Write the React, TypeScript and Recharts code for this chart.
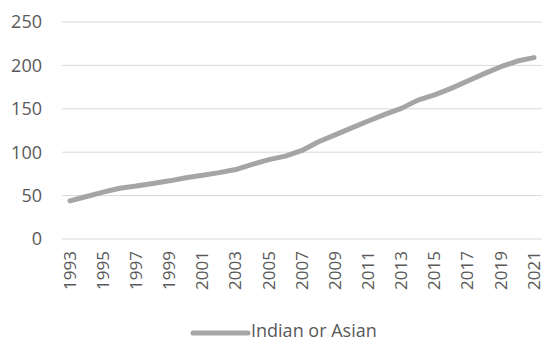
import { LineChart, Line, XAxis, YAxis, CartesianGrid, Legend } from 'recharts'

const years = [
  '1993', '1994', '1995', '1996', '1997', '1998', '1999', '2000', '2001', '2002',
  '2003', '2004', '2005', '2006', '2007', '2008', '2009', '2010', '2011', '2012',
  '2013', '2014', '2015', '2016', '2017', '2018', '2019', '2020', '2021',
]

const indianOrAsian = [
  44, 49, 54, 58.5, 61, 64, 67, 70.5, 73.5, 76.5,
  80, 86, 91.5, 95.5, 102, 112, 120, 128, 136, 143.5,
  150.5, 160, 166, 173.5, 182, 190.5, 198.5, 205, 209,
]

const yTicks = [0, 50, 100, 150, 200, 250]

const seriesName = 'Indian or Asian'

const data = years.map((year, i) => ({ year, value: indianOrAsian[i] }))

const FONT = '"Open Sans", "Noto Sans", sans-serif'
const TEXT = '#595959'
const LINE = '#a5a5a5'

// year labels turned on their side, reading bottom-to-top
function YearTick({ x, y, payload }: any) {
  return (
    <text
      x={x}
      y={y}
      transform={`rotate(-90, ${x}, ${y})`}
      textAnchor="end"
      dy="0.34em"
      fill={TEXT}
      fontSize={17}
      fontFamily={FONT}
    >
      {payload.value}
    </text>
  )
}

function LegendBox({ payload }: any) {
  const item = payload && payload[0]
  return (
    <svg width={545} height={32} style={{ display: 'block', overflow: 'visible' }}>
      <line x1={193} x2={248} y1={24} y2={24} stroke={item ? item.color : LINE} strokeWidth={5} strokeLinecap="round" />
      <text x={251} y={28} fill={TEXT} fontSize={18} fontFamily={FONT}>
        {item ? item.value : seriesName}
      </text>
    </svg>
  )
}

export default function App() {
  return (
    <div style={{ width: 545, height: 341, background: '#fff' }}>
      <style>{'body{margin:0}'}</style>
      <LineChart
        width={545}
        height={341}
        data={data}
        margin={{ top: 22, right: 3, left: 0, bottom: 0 }}
        style={{ fontFamily: FONT }}
      >
        <CartesianGrid vertical={false} stroke="#d9d9d9" strokeWidth={1} />
        <XAxis
          dataKey="year"
          interval={1}
          height={70}
          padding={{ left: 8, right: 8 }}
          axisLine={false}
          tickLine={false}
          tickSize={0}
          tickMargin={12}
          tick={<YearTick />}
        />
        <YAxis
          width={62}
          domain={[0, 250]}
          ticks={yTicks}
          axisLine={false}
          tickLine={false}
          tickSize={0}
          tickMargin={20}
          tick={{ fill: TEXT, fontSize: 18, fontFamily: FONT }}
        />
        <Legend verticalAlign="bottom" wrapperStyle={{ left: 0, width: 545 }} content={<LegendBox />} />
        <Line
          type="linear"
          dataKey="value"
          name={seriesName}
          stroke={LINE}
          strokeWidth={5}
          strokeLinecap="round"
          strokeLinejoin="round"
          dot={false}
          activeDot={false}
          isAnimationActive={false}
        />
      </LineChart>
    </div>
  )
}
